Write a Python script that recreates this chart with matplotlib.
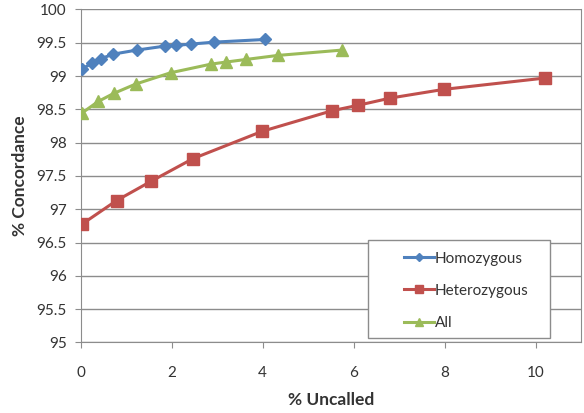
import matplotlib
matplotlib.use('Agg')
import matplotlib.pyplot as plt
from matplotlib.patches import Rectangle

# values
homo_x = [0.02, 0.24, 0.44, 0.72, 1.23, 1.85, 2.09, 2.42, 2.94, 4.06]
homo_y = [99.10, 99.19, 99.26, 99.33, 99.39, 99.45, 99.46, 99.48, 99.51, 99.55]

het_x = [0.04, 0.79, 1.55, 2.47, 3.99, 5.53, 6.09, 6.81, 7.98, 10.2]
het_y = [96.78, 97.13, 97.42, 97.76, 98.17, 98.48, 98.56, 98.67, 98.80, 98.97]

all_x = [0.04, 0.39, 0.73, 1.21, 1.98, 2.87, 3.19, 3.64, 4.33, 5.74]
all_y = [98.45, 98.62, 98.74, 98.88, 99.05, 99.18, 99.21, 99.25, 99.31, 99.39]

x_ticks = [0, 2, 4, 6, 8, 10]
y_ticks = [95, 95.5, 96, 96.5, 97, 97.5, 98, 98.5, 99, 99.5, 100]
y_tick_labels = ['95', '95.5', '96', '96.5', '97', '97.5', '98', '98.5', '99', '99.5', '100']

plt.rcParams['font.family'] = ['Lato', 'DejaVu Sans']

fig = plt.figure(figsize=(5.84, 4.13), dpi=100)
ax = fig.add_axes([0.138, 0.171, 0.857, 0.806])

ax.plot(homo_x, homo_y, color='#4F81BD', lw=2.2, marker='D', ms=6,
        label='Homozygous', zorder=3)
ax.plot(het_x, het_y, color='#C0504D', lw=2.2, marker='s', ms=8,
        label='Heterozygous', zorder=3)
ax.plot(all_x, all_y, color='#9BBB59', lw=2.2, marker='^', ms=8,
        label='All', zorder=3)

ax.set_xlim(0, 11)
ax.set_ylim(95, 100)
ax.set_xticks(x_ticks)
ax.set_yticks(y_ticks)
ax.set_yticklabels(y_tick_labels)

ax.grid(axis='y', color='#8c8c8c', lw=1)
ax.set_axisbelow(True)
for side in ['left', 'bottom', 'right']:
    ax.spines[side].set_color('#8c8c8c')
ax.spines['top'].set_visible(False)

ax.tick_params(axis='both', colors='#8c8c8c', labelcolor='#333333',
               labelsize=11, length=4)
ax.tick_params(axis='x', pad=13)
ax.tick_params(axis='y', pad=6)

ax.set_xlabel('% Uncalled', fontsize=12.5, fontweight='bold', color='#333333',
              labelpad=9)
ax.set_ylabel('% Concordance', fontsize=12.5, fontweight='bold', color='#333333',
              labelpad=6)

# legend frame drawn separately so the entries can sit with a wide left margin
box = Rectangle((0.575, 0.013), 0.363, 0.294, transform=ax.transAxes,
                facecolor='white', edgecolor='#8c8c8c', lw=1, zorder=4)
ax.add_patch(box)

leg = ax.legend(loc='upper left', bbox_to_anchor=(0.63, 0.295),
                fontsize=11, frameon=False, borderpad=0.5,
                labelspacing=1.18, handlelength=2.0, markerscale=0.75,
                handletextpad=0.05, borderaxespad=0)
leg.set_zorder(5)
for t in leg.get_texts():
    t.set_color('#333333')

fig.savefig('out.png', dpi=100)
